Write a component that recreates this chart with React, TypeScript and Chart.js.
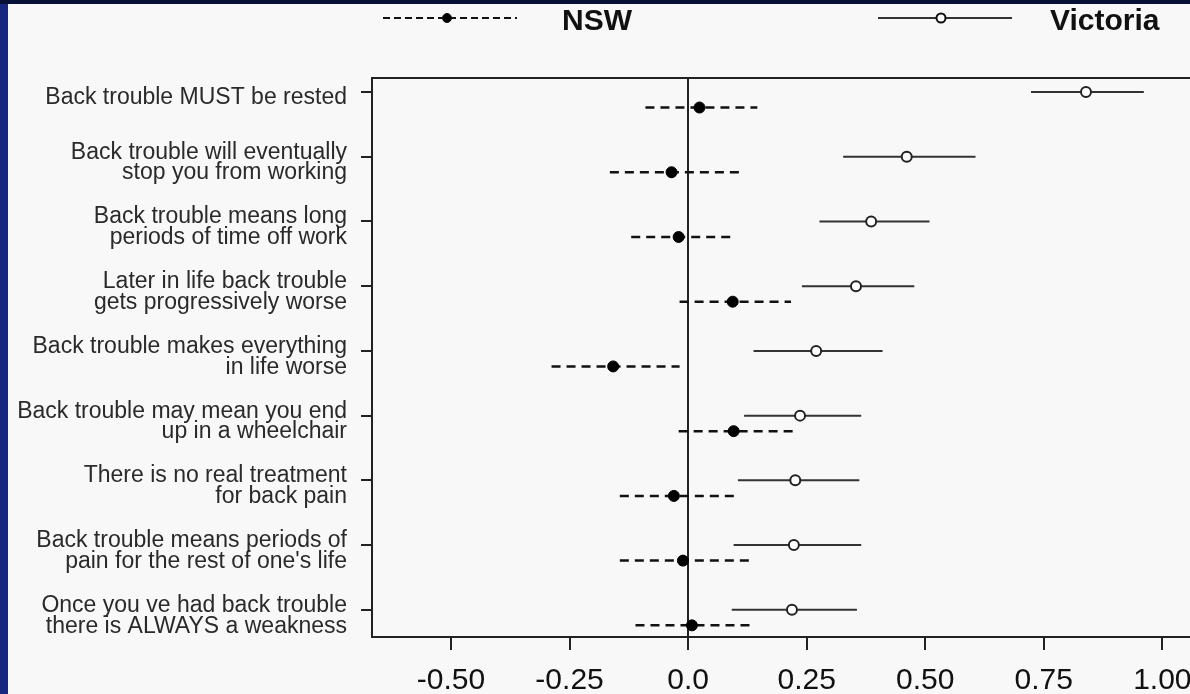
import React, { useEffect, useRef } from 'react';
import { Chart, registerables } from 'chart.js';

Chart.register(...registerables);

// ---- data ----
const categories: string[][] = [
  ['Back trouble MUST be rested'],
  ['Back trouble will eventually', 'stop you from working'],
  ['Back trouble means long', 'periods of time off work'],
  ['Later in life back trouble', 'gets progressively worse'],
  ['Back trouble makes everything', 'in life worse'],
  ['Back trouble may mean you end', 'up in a wheelchair'],
  ['There is no real treatment', 'for back pain'],
  ['Back trouble means periods of', "pain for the rest of one's life"],
  ['Once you ve had back trouble', 'there is ALWAYS a weakness'],
];

const seriesNames = ['NSW', 'Victoria'];

const vicEst = [0.839, 0.461, 0.386, 0.354, 0.270, 0.236, 0.226, 0.223, 0.219];
const vicLow = [0.723, 0.327, 0.277, 0.240, 0.138, 0.118, 0.105, 0.096, 0.092];
const vicHigh = [0.961, 0.606, 0.509, 0.477, 0.410, 0.365, 0.361, 0.365, 0.356];

const nswEst = [0.024, -0.035, -0.020, 0.094, -0.158, 0.096, -0.030, -0.011, 0.008];
const nswLow = [-0.090, -0.165, -0.120, -0.018, -0.288, -0.020, -0.144, -0.144, -0.111];
const nswHigh = [0.146, 0.114, 0.100, 0.217, -0.018, 0.228, 0.105, 0.130, 0.138];

const xTickValues = [-0.5, -0.25, 0, 0.25, 0.5, 0.75, 1.0];
const xTickLabels = ['-0.50', '-0.25', '0.0', '0.25', '0.50', '0.75', '1.00'];

// ---- style / layout ----
const FONT = '"Liberation Sans", Arial, Helvetica, sans-serif';
const NSW_OFFSET = 0.24;
const X_MIN = -0.6666;
const X_MAX = 1.1005;
const Y_MIN = -0.216;
const Y_MAX = 8.42;

const boxPlugin = {
  id: 'plotBox',
  afterDraw(chart: any) {
    const { ctx, chartArea: a } = chart;
    ctx.save();
    ctx.strokeStyle = '#222';
    ctx.lineWidth = 2;
    ctx.strokeRect(a.left, a.top, a.right - a.left, a.bottom - a.top);
    ctx.restore();
  },
};

const legendPlugin = {
  id: 'customLegend',
  afterDraw(chart: any) {
    const ctx = chart.ctx;
    const y = 14;
    const items = [
      { label: seriesNames[0], x0: 375, x1: 509, dot: 439, text: 554, dash: [7, 4], filled: true },
      { label: seriesNames[1], x0: 870, x1: 1004, dot: 933, text: 1042, dash: [] as number[], filled: false },
    ];
    ctx.save();
    items.forEach((it) => {
      ctx.beginPath();
      ctx.setLineDash(it.dash);
      ctx.strokeStyle = it.filled ? '#111' : '#333';
      ctx.lineWidth = 2;
      ctx.moveTo(it.x0, y);
      ctx.lineTo(it.x1, y);
      ctx.stroke();
      ctx.setLineDash([]);
      ctx.beginPath();
      ctx.arc(it.dot, y, 4.5, 0, Math.PI * 2);
      ctx.fillStyle = it.filled ? '#000' : '#fff';
      ctx.fill();
      ctx.lineWidth = it.filled ? 1 : 2;
      ctx.strokeStyle = '#111';
      ctx.stroke();
      ctx.font = `bold 30px ${FONT}`;
      ctx.fillStyle = '#111';
      ctx.textBaseline = 'alphabetic';
      ctx.textAlign = 'left';
      ctx.fillText(it.label, it.text, 26);
    });
    ctx.restore();
  },
};

export default function App() {
  const ref = useRef<HTMLCanvasElement | null>(null);

  useEffect(() => {
    if (!ref.current) return;
    const nswCI = nswLow.flatMap((lo, i) => [
      { x: lo, y: i + NSW_OFFSET },
      { x: nswHigh[i], y: i + NSW_OFFSET },
      { x: null, y: null },
    ]);
    const vicCI = vicLow.flatMap((lo, i) => [
      { x: lo, y: i },
      { x: vicHigh[i], y: i },
      { x: null, y: null },
    ]);

    const chart = new Chart(ref.current, {
      type: 'scatter',
      data: {
        datasets: [
          {
            label: seriesNames[0],
            data: nswEst.map((x, i) => ({ x, y: i + NSW_OFFSET })),
            pointRadius: 5.5,
            pointBackgroundColor: '#000',
            pointBorderColor: '#000',
            pointBorderWidth: 1,
            showLine: false,
          },
          {
            label: seriesNames[1],
            data: vicEst.map((x, i) => ({ x, y: i })),
            pointRadius: 5,
            pointBackgroundColor: '#fff',
            pointBorderColor: '#222',
            pointBorderWidth: 2,
            showLine: false,
          },
          {
            label: seriesNames[0] + ' CI',
            data: nswCI as any,
            showLine: true,
            spanGaps: false,
            borderDash: [9, 6],
            borderColor: '#111',
            borderWidth: 2.5,
            pointRadius: 0,
          },
          {
            label: seriesNames[1] + ' CI',
            data: vicCI as any,
            showLine: true,
            spanGaps: false,
            borderColor: '#333',
            borderWidth: 2,
            pointRadius: 0,
          },
        ],
      },
      options: {
        animation: false,
        responsive: false,
        devicePixelRatio: 1,
        layout: { padding: { top: 74, right: 0, bottom: 0, left: 0 } },
        plugins: { legend: { display: false }, tooltip: { enabled: false } },
        scales: {
          x: {
            type: 'linear',
            min: X_MIN,
            max: X_MAX,
            afterBuildTicks: (scale: any) => {
              scale.ticks = xTickValues.map((v) => ({ value: v }));
            },
            afterFit: (scale: any) => {
              scale.height = 57;
              scale.paddingLeft = 0;
              scale.paddingRight = 0;
            },
            ticks: {
              autoSkip: false,
              maxRotation: 0,
              padding: 13,
              color: '#111',
              font: { family: FONT, size: 30, lineHeight: 1.2 },
              callback: (_v: any, i: number) => xTickLabels[i],
            },
            grid: {
              drawOnChartArea: true,
              color: (c: any) => (c.tick && c.tick.value === 0 ? '#222' : 'rgba(0,0,0,0)'),
              lineWidth: 2,
              tickColor: '#222',
              tickWidth: 2,
              tickLength: 13,
            },
            border: { display: true, color: '#222', width: 2 },
          },
          y: {
            type: 'linear',
            min: Y_MIN,
            max: Y_MAX,
            reverse: true,
            afterBuildTicks: (scale: any) => {
              scale.ticks = categories.map((_c, i) => ({ value: i }));
            },
            afterFit: (scale: any) => {
              scale.width = 364;
              scale.paddingTop = 0;
              scale.paddingBottom = 0;
            },
            ticks: {
              autoSkip: false,
              padding: 14,
              labelOffset: 6,
              color: '#2a2a2a',
              font: { family: FONT, size: 23, lineHeight: 0.9 },
              callback: (v: any) => categories[Math.round(Number(v))] as any,
            },
            grid: {
              drawOnChartArea: false,
              color: '#222',
              tickColor: '#222',
              lineWidth: 2,
              tickLength: 11,
            },
            border: { display: true, color: '#222', width: 2 },
          },
        },
      },
      plugins: [boxPlugin, legendPlugin],
    } as any);

    return () => chart.destroy();
  }, []);

  return (
    <div
      style={{
        position: 'fixed',
        left: 0,
        top: 0,
        width: 1190,
        height: 694,
        overflow: 'hidden',
        background: '#081038',
      }}
    >
      <div style={{ position: 'absolute', left: 0, top: 4, width: 8, bottom: 0, background: '#17287f' }} />
      <div
        style={{
          position: 'absolute',
          left: 8,
          top: 4,
          right: 0,
          bottom: 0,
          background: '#f8f8f8',
          overflow: 'hidden',
        }}
      >
        <canvas ref={ref} width={1209} height={690} style={{ display: 'block', width: 1209, height: 690 }} />
      </div>
    </div>
  );
}
